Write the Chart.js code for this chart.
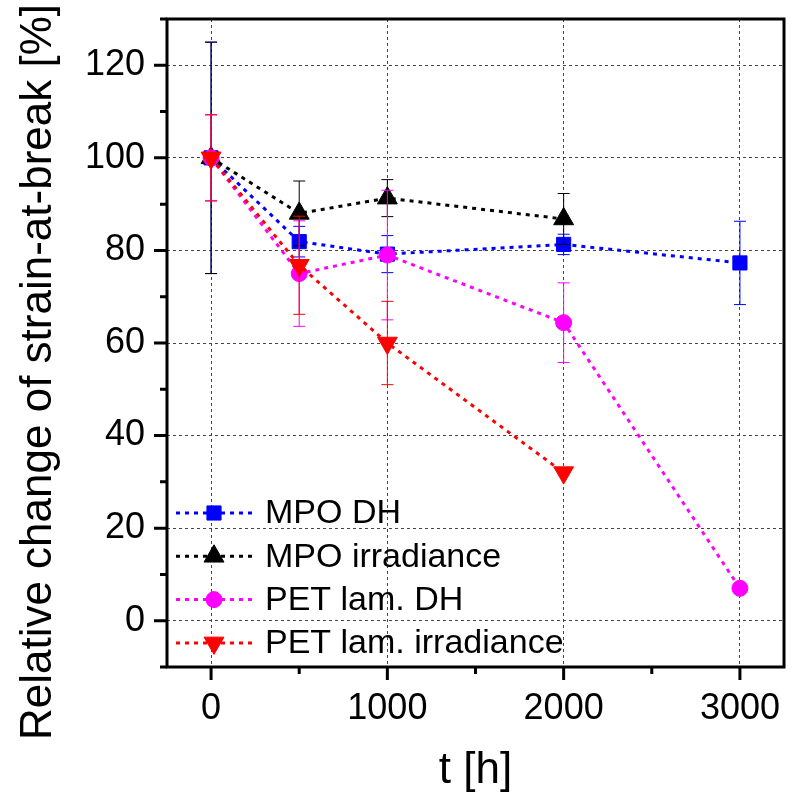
<!DOCTYPE html>
<html lang="en">

<head>
    <meta charset="UTF-8">
    <title>Relative change of strain-at-break</title>
    <script src="https://cdnjs.cloudflare.com/ajax/libs/Chart.js/4.4.1/chart.umd.min.js"></script>
    <style>
        * {
            margin: 0;
            padding: 0;
            box-sizing: border-box;
        }

        body {
            background: white;
        }

        .chart-box {
            width: 796px;
            height: 795px;
        }
    </style>
</head>

<body>
    <div class="chart-box">
        <canvas id="strainChart" width="796" height="795"></canvas>
    </div>

    <script>
        // Data
        const labels = ['MPO DH', 'MPO irradiance', 'PET lam. DH', 'PET lam. irradiance'];

        const mpoDhHours = [0, 500, 1000, 2000, 3000];
        const mpoDhValues = [100, 81.9, 79.2, 81.3, 77.3];
        const mpoDhErrors = [25, 3.3, 4, 2.2, 9];

        const mpoIrrHours = [0, 500, 1000, 2000];
        const mpoIrrValues = [100, 88, 91.3, 86.8];
        const mpoIrrErrors = [25, 7, 4, 5.5];

        const petDhHours = [0, 500, 1000, 2000, 3000];
        const petDhValues = [100, 75, 79, 64.4, 7];
        const petDhErrors = [9.3, 11.4, 14, 8.6, 0];

        const petIrrHours = [0, 500, 1000, 2000];
        const petIrrValues = [100, 76.8, 60, 32];
        const petIrrErrors = [9.3, 10.6, 9, 0];

        const xTicks = [0, 1000, 2000, 3000];
        const xMinorTicks = [500, 1500, 2500];
        const yTicks = [0, 20, 40, 60, 80, 100, 120];
        const yMinorTicks = [-10, 10, 30, 50, 70, 90, 110, 130];

        const FONT = '"Liberation Sans", Arial, sans-serif';

        function toPoints(xs, ys) {
            return xs.map((x, i) => ({ x: x, y: ys[i] }));
        }

        const errorSets = [mpoDhErrors, mpoIrrErrors, petDhErrors, petIrrErrors];

        // error bars go under each series' own markers
        const errorBars = {
            id: 'errorBars',
            beforeDatasetDraw(chart, args) {
                const ds = chart.data.datasets[args.index];
                const errs = errorSets[args.index];
                const { ctx, scales: { x, y } } = chart;
                ctx.save();
                ctx.strokeStyle = ds.borderColor;
                ctx.lineWidth = 1;
                ds.data.forEach((p, i) => {
                    const e = errs[i];
                    if (!e) return;
                    const px = x.getPixelForValue(p.x);
                    const top = y.getPixelForValue(p.y + e);
                    const bot = y.getPixelForValue(p.y - e);
                    ctx.beginPath();
                    ctx.moveTo(px, top); ctx.lineTo(px, bot);
                    ctx.moveTo(px - 6, top); ctx.lineTo(px + 6, top);
                    ctx.moveTo(px - 6, bot); ctx.lineTo(px + 6, bot);
                    ctx.stroke();
                });
                ctx.restore();
            }
        };

        // frame, tick marks, axis titles and the legend
        const decorations = {
            id: 'decorations',
            afterDraw(chart) {
                const { ctx, chartArea: a, scales: { x, y } } = chart;
                ctx.save();
                ctx.strokeStyle = '#000';
                ctx.lineWidth = 3;
                ctx.strokeRect(a.left, a.top, a.right - a.left, a.bottom - a.top);

                ctx.beginPath();
                xTicks.forEach(v => {
                    const px = x.getPixelForValue(v);
                    ctx.moveTo(px, a.bottom); ctx.lineTo(px, a.bottom + 13);
                });
                xMinorTicks.forEach(v => {
                    const px = x.getPixelForValue(v);
                    ctx.moveTo(px, a.bottom); ctx.lineTo(px, a.bottom + 7);
                });
                yTicks.forEach(v => {
                    const py = y.getPixelForValue(v);
                    ctx.moveTo(a.left, py); ctx.lineTo(a.left - 13, py);
                });
                yMinorTicks.forEach(v => {
                    const py = y.getPixelForValue(v);
                    ctx.moveTo(a.left, py); ctx.lineTo(a.left - 7, py);
                });
                ctx.stroke();

                // axis titles
                ctx.fillStyle = '#000';
                ctx.font = '44px ' + FONT;
                ctx.textAlign = 'center';
                ctx.textBaseline = 'middle';
                ctx.fillText('t [h]', (a.left + a.right) / 2, 771);
                ctx.save();
                ctx.translate(39, 372);
                ctx.rotate(-Math.PI / 2);
                ctx.fillText('Relative change of strain-at-break [%]', 0, 0);
                ctx.restore();

                // legend, bottom left inside the plot
                ctx.font = '34px ' + FONT;
                ctx.textAlign = 'left';
                chart.data.datasets.forEach((ds, i) => {
                    const rowY = 513 + i * 43.3;
                    ctx.save();
                    ctx.strokeStyle = ds.borderColor;
                    ctx.lineWidth = ds.borderWidth;
                    ctx.setLineDash(ds.borderDash);
                    ctx.beginPath();
                    ctx.moveTo(176, rowY); ctx.lineTo(252, rowY);
                    ctx.stroke();
                    ctx.setLineDash([]);
                    ctx.fillStyle = ds.pointBackgroundColor;
                    ctx.lineWidth = 1;
                    Chart.helpers.drawPoint(ctx, {
                        pointStyle: ds.pointStyle,
                        radius: ds.pointRadius,
                        rotation: ds.pointRotation || 0,
                        borderWidth: 1
                    }, 214, rowY);
                    ctx.restore();
                    ctx.fillStyle = '#000';
                    ctx.fillText(ds.label, 265, rowY + 1);
                });
                ctx.restore();
            }
        };

        function series(label, pts, color, style, radius, rotation, order) {
            return {
                label: label,
                data: pts,
                borderColor: color,
                backgroundColor: color,
                borderWidth: 3,
                borderDash: [4, 5],
                pointStyle: style,
                pointRadius: radius,
                pointRotation: rotation,
                pointBackgroundColor: color,
                pointBorderColor: color,
                pointBorderWidth: 1,
                tension: 0,
                order: order
            };
        }

        const ctx = document.getElementById('strainChart').getContext('2d');
        new Chart(ctx, {
            type: 'line',
            data: {
                datasets: [
                    series(labels[0], toPoints(mpoDhHours, mpoDhValues), '#0000ff', 'rect', 10, 0, 4),
                    series(labels[1], toPoints(mpoIrrHours, mpoIrrValues), '#000000', 'triangle', 11.5, 0, 3),
                    series(labels[2], toPoints(petDhHours, petDhValues), '#ff00ff', 'circle', 8, 0, 2),
                    series(labels[3], toPoints(petIrrHours, petIrrValues), '#ff0000', 'triangle', 11.5, 180, 1)
                ]
            },
            options: {
                responsive: false,
                animation: false,
                layout: {
                    autoPadding: false,
                    padding: { top: 19, right: 12, left: 0, bottom: 0 }
                },
                plugins: {
                    legend: { display: false },
                    tooltip: { enabled: false }
                },
                scales: {
                    x: {
                        type: 'linear',
                        min: -250,
                        max: 3250,
                        afterBuildTicks: s => { s.ticks = xTicks.map(v => ({ value: v })); },
                        afterFit: s => {
                            s.height = 128;
                            s.paddingLeft = 0;
                            s.paddingRight = 0;
                        },
                        grid: { color: '#444', lineWidth: 1, drawTicks: false },
                        border: { display: false, dash: [3, 3] },
                        ticks: {
                            padding: 20,
                            maxRotation: 0,
                            autoSkip: false,
                            color: '#000',
                            font: { size: 36, family: FONT },
                            callback: v => String(v)
                        }
                    },
                    y: {
                        type: 'linear',
                        min: -10,
                        max: 130,
                        afterBuildTicks: s => { s.ticks = yTicks.map(v => ({ value: v })); },
                        afterFit: s => {
                            s.width = 167;
                            s.paddingTop = 0;
                            s.paddingBottom = 0;
                        },
                        grid: { color: '#444', lineWidth: 1, drawTicks: false },
                        border: { display: false, dash: [3, 3] },
                        ticks: {
                            padding: 22,
                            color: '#000',
                            font: { size: 36, family: FONT },
                            callback: v => String(v)
                        }
                    }
                }
            },
            plugins: [errorBars, decorations]
        });
    </script>
</body>

</html>
